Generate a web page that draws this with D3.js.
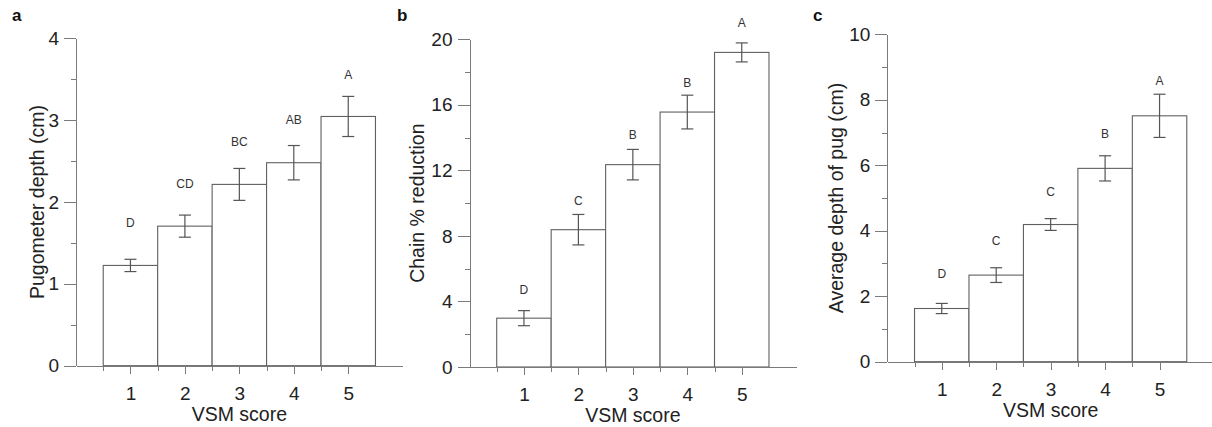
<!DOCTYPE html>
<html>
<head>
<meta charset="utf-8">
<script src="https://cdn.jsdelivr.net/npm/d3@7"></script>
<style>
  body { margin: 0; background: #fff; }
  svg { display: block; font-family: "Liberation Sans", Arial, sans-serif; }
  .axis path, .axis line { stroke: #7a7a7a; shape-rendering: crispEdges; }
  .axis text { font-family: "Liberation Sans", Arial, sans-serif; font-size: 19px; fill: #222; }
</style>
</head>
<body>
<svg class="chart" width="1212" height="427"></svg>
<script>
// VSM score categories (same for all three panels)
var scores = [1, 2, 3, 4, 5];

// panel a: pugometer depth
var pugDepth = [1.225, 1.705, 2.215, 2.48, 3.045],
    pugDepthErr = [0.075, 0.135, 0.195, 0.21, 0.245],
    pugDepthLetters = ["D", "CD", "BC", "AB", "A"],
    pugDepthLetterAt = [1.74, 2.22, 2.74, 3.0, 3.56],
    pugDepthTicks = [0, 1, 2, 3, 4];

// panel b: chain % reduction
var chainRed = [2.98, 8.38, 12.35, 15.56, 19.2],
    chainRedErr = [0.46, 0.93, 0.93, 1.03, 0.58],
    chainRedLetters = ["D", "C", "B", "B", "A"],
    chainRedLetterAt = [4.74, 10.13, 14.16, 17.36, 20.98],
    chainRedTicks = [0, 4, 8, 12, 16, 20];

// panel c: average depth of pug
var avgPug = [1.625, 2.645, 4.19, 5.905, 7.51],
    avgPugErr = [0.155, 0.225, 0.18, 0.385, 0.66],
    avgPugLetters = ["D", "C", "C", "B", "A"],
    avgPugLetterAt = [2.68, 3.70, 5.19, 6.95, 8.57],
    avgPugTicks = [0, 2, 4, 6, 8, 10];

var chart = d3.select(".chart");

var panels = [
  {tag: "a", tagX: 12, left: 76, top: 38.3, bottom: 365.7, title: "Pugometer depth (cm)", titleOff: 39,
   vals: pugDepth, err: pugDepthErr, letters: pugDepthLetters, letterAt: pugDepthLetterAt,
   ticks: pugDepthTicks, minor: 0.5},
  {tag: "b", tagX: 397, left: 469.5, top: 39.3, bottom: 367, title: "Chain % reduction", titleOff: 52,
   vals: chainRed, err: chainRedErr, letters: chainRedLetters, letterAt: chainRedLetterAt,
   ticks: chainRedTicks, minor: 2},
  {tag: "c", tagX: 813, left: 887.3, top: 34.3, bottom: 361.7, title: "Average depth of pug (cm)", titleOff: 51,
   vals: avgPug, err: avgPugErr, letters: avgPugLetters, letterAt: avgPugLetterAt,
   ticks: avgPugTicks, minor: 1}
];

panels.forEach(drawPanel);

function drawPanel(p) {
  var x = d3.scaleLinear().domain([0, 6]).range([0, 6 * 54.45]);
  var ymax = p.ticks[p.ticks.length - 1];
  var y = d3.scaleLinear().domain([0, ymax]).range([p.bottom - p.top, 0]);
  var h = p.bottom - p.top;

  var data = scores.map(function(s, i) {
    return {score: s, v: p.vals[i], e: p.err[i], letter: p.letters[i], at: p.letterAt[i]};
  });

  chart.append("text")
      .attr("x", p.tagX)
      .attr("y", 21)
      .style("font-size", "17px")
      .style("font-weight", "bold")
      .attr("fill", "#111")
      .text(p.tag);

  var g = chart.append("g")
      .attr("transform", "translate(" + p.left + "," + p.top + ")");

  // minor y ticks
  var yMinor = d3.range(0, ymax + 0.001, p.minor);
  g.append("g")
      .attr("class", "axis")
      .call(d3.axisLeft(y).tickValues(yMinor).tickSize(5).tickFormat(""))
      .select(".domain").remove();

  g.append("g")
      .attr("class", "axis")
      .call(d3.axisLeft(y).tickValues(p.ticks).tickSizeInner(12).tickSizeOuter(0).tickPadding(5)
        .tickFormat(d3.format("d")));

  // minor x ticks at bar edges
  g.append("g")
      .attr("class", "axis")
      .attr("transform", "translate(0," + h + ")")
      .call(d3.axisBottom(x).tickValues([0.5, 1.5, 2.5, 3.5, 4.5]).tickSize(5).tickFormat(""))
      .select(".domain").remove();

  var bars = g.append("g");
  bars.selectAll("rect")
      .data(data)
    .enter().append("rect")
      .attr("x", function(d) { return x(d.score - 0.5); })
      .attr("y", function(d) { return y(d.v); })
      .attr("width", x(1) - x(0))
      .attr("height", function(d) { return h - y(d.v); })
      .attr("fill", "#fff")
      .attr("stroke", "#606060")
      .attr("stroke-width", 1.1);

  g.append("g")
      .attr("class", "axis")
      .attr("transform", "translate(0," + h + ")")
      .call(d3.axisBottom(x).tickValues(scores).tickSizeInner(8).tickSizeOuter(0).tickPadding(13)
        .tickFormat(d3.format("d")));

  var eb = g.append("g")
      .attr("stroke", "#555")
      .attr("stroke-width", 1.2);
  eb.selectAll(".stem")
      .data(data)
    .enter().append("line")
      .attr("x1", function(d) { return x(d.score); })
      .attr("x2", function(d) { return x(d.score); })
      .attr("y1", function(d) { return y(d.v - d.e); })
      .attr("y2", function(d) { return y(d.v + d.e); });
  eb.selectAll(".capTop")
      .data(data)
    .enter().append("line")
      .attr("x1", function(d) { return x(d.score) - 6; })
      .attr("x2", function(d) { return x(d.score) + 6; })
      .attr("y1", function(d) { return y(d.v + d.e); })
      .attr("y2", function(d) { return y(d.v + d.e); });
  eb.selectAll(".capBot")
      .data(data)
    .enter().append("line")
      .attr("x1", function(d) { return x(d.score) - 6; })
      .attr("x2", function(d) { return x(d.score) + 6; })
      .attr("y1", function(d) { return y(d.v - d.e); })
      .attr("y2", function(d) { return y(d.v - d.e); });

  g.selectAll(".letter")
      .data(data)
    .enter().append("text")
      .attr("x", function(d) { return x(d.score); })
      .attr("y", function(d) { return y(d.at); })
      .attr("dy", ".35em")
      .style("text-anchor", "middle")
      .style("font-size", "12px")
      .attr("fill", "#333")
      .text(function(d) { return d.letter; });

  g.append("text")
      .attr("x", x(3))
      .attr("y", h + 55.5)
      .style("text-anchor", "middle")
      .style("font-size", "19.5px")
      .attr("fill", "#222")
      .text("VSM score");

  g.append("text")
      .attr("transform", "translate(" + (-p.titleOff) + "," + (h / 2) + ") rotate(-90)")
      .attr("dy", ".35em")
      .style("text-anchor", "middle")
      .style("font-size", "19.5px")
      .attr("fill", "#222")
      .text(p.title);
}
</script>
</body>
</html>
